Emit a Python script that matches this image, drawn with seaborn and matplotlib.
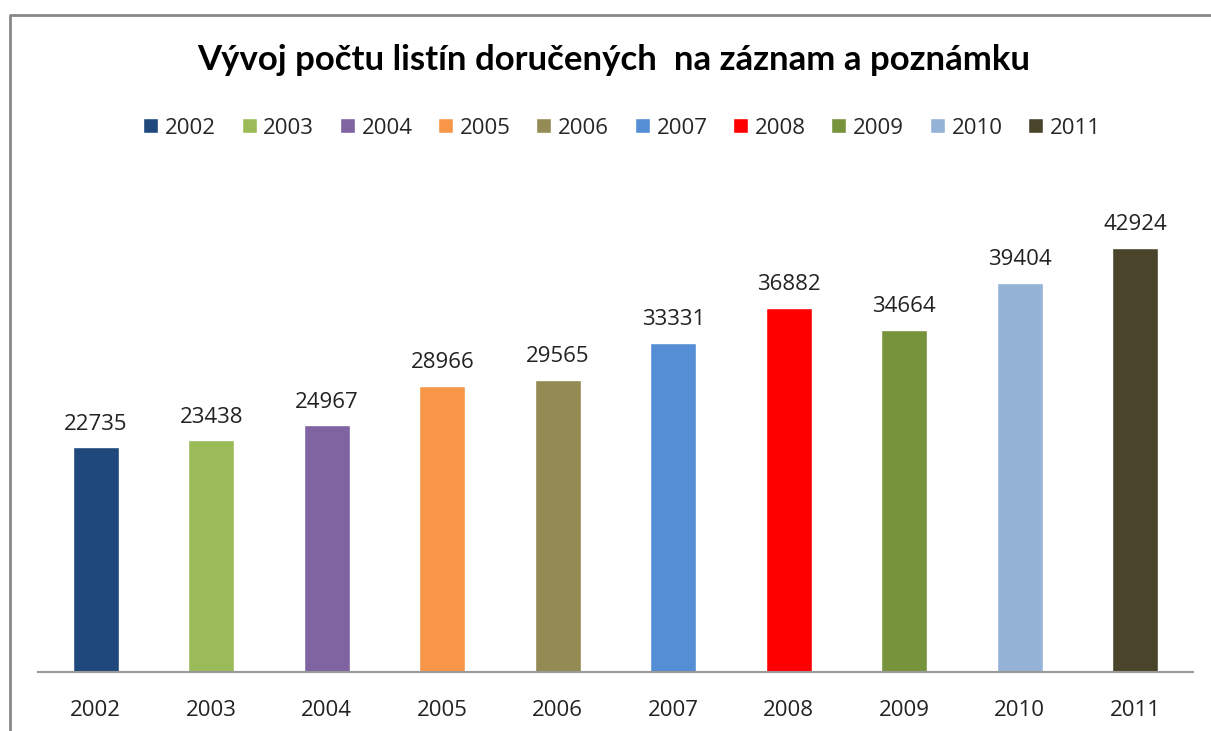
import seaborn as sns
import pandas as pd
import matplotlib.pyplot as plt
from matplotlib.lines import Line2D

# data
years = ["2002", "2003", "2004", "2005", "2006", "2007", "2008", "2009", "2010", "2011"]
counts = [22735, 23438, 24967, 28966, 29565, 33331, 36882, 34664, 39404, 42924]
colors = ["#1F497D", "#9BBB59", "#8064A2", "#F79646", "#948A54",
          "#558ED5", "#FF0000", "#77933C", "#95B3D7", "#4A452A"]

df = pd.DataFrame({"rok": years, "pocet": counts})

sns.set_style("white")
plt.rcParams["font.family"] = ["Open Sans", "DejaVu Sans"]

fig = plt.figure(figsize=(12.11, 7.31), dpi=100)
ax = fig.add_axes([38 / 1211, 59 / 731, 1155 / 1211, 494 / 731])

sns.barplot(data=df, x="rok", y="pocet", hue="rok", palette=colors,
            width=0.4, legend=True, ax=ax, saturation=1)

for c in ax.containers:
    ax.bar_label(c, padding=9, fontsize=16, color="#222222")

ax.set_ylim(0, 50000)
ax.set_xlim(-0.5, 9.5)
ax.set_xlabel("")
ax.set_ylabel("")
ax.set_yticks([])
ax.tick_params(axis="x", labelsize=16, colors="#222222", pad=20, length=0)
sns.despine(ax=ax, left=True)
ax.spines["bottom"].set_color("#999999")
ax.spines["bottom"].set_linewidth(1.5)

sns.move_legend(ax, "center", bbox_to_anchor=(622 / 1211, 1 - 128 / 731),
                bbox_transform=fig.transFigure, ncol=10, frameon=False,
                title=None, fontsize=16, handlelength=0.68, handleheight=0.68,
                handletextpad=0.3, columnspacing=1.15)

fig.text(614 / 1211, 1 - 60 / 731, "Vývoj počtu listín doručených  na záznam a poznámku",
         ha="center", va="center", fontsize=25, fontweight="bold", color="black",
         family=["Lato", "DejaVu Sans"])

# chart border (left and top edges visible)
fig.add_artist(Line2D([10 / 1211, 10 / 1211, 1.0], [0.0, 1 - 15 / 731, 1 - 15 / 731],
                      transform=fig.transFigure, color="#888888", linewidth=2))

fig.savefig("out.png", dpi=100)
